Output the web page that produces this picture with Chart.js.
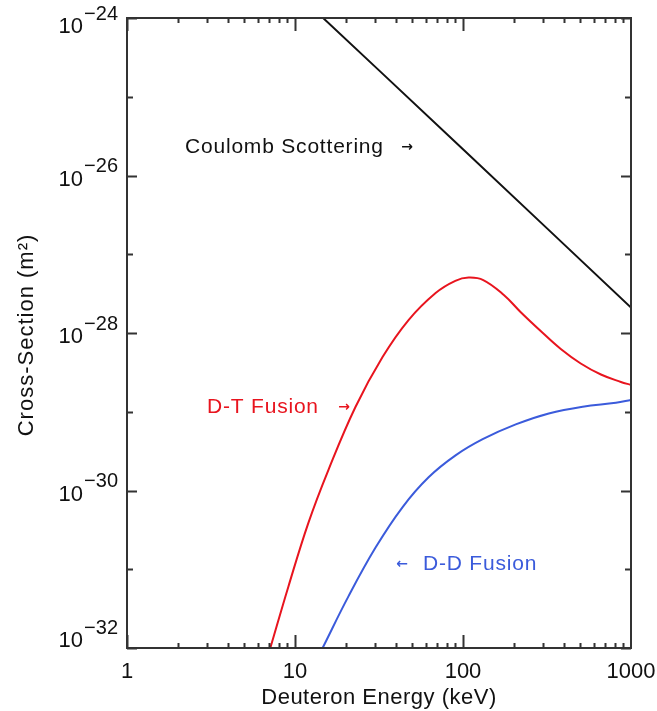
<!DOCTYPE html>
<html>
<head>
<meta charset="utf-8">
<script src="https://cdn.jsdelivr.net/npm/chart.js@4.4.1/dist/chart.umd.min.js"></script>
<style>
  html, body { margin: 0; padding: 0; background: #fff; }
  canvas { display: block; }
</style>
</head>
<body>
<canvas id="chart" width="657" height="711"></canvas>
<script>
// Deuteron energy (keV) vs cross-section (m^2)
const energyTickValues = [1, 10, 100, 1000];
const energyTickLabels = ['1', '10', '100', '1000'];
const sigmaTickExponents = [-24, -26, -28, -30, -32];

const coulombEnergy = [10, 100, 1000];
const coulombSigma = [2.16e-24, 2.16e-26, 2.1e-28];

const dtEnergy = [7.13, 9.12, 12.0, 15.8, 22.9, 33.2, 47.4, 68.7, 90, 108, 132, 175, 220, 290, 382, 502, 662, 871, 1000];
const dtSigma = [1.0e-32, 5.96e-32, 3.86e-31, 1.82e-30, 1.15e-29, 4.95e-29, 1.46e-28, 3.22e-28, 4.6e-28, 5.05e-28, 4.7e-28, 3.04e-28, 1.85e-28, 1.06e-28, 6.26e-29, 4.10e-29, 2.97e-29, 2.39e-29, 2.19e-29];

const ddEnergy = [14.6, 20.8, 30.1, 43.6, 62.4, 90.3, 131, 206, 324, 516, 813, 1000];
const ddSigma = [1.0e-32, 4.52e-32, 1.87e-31, 6.12e-31, 1.47e-30, 2.79e-30, 4.48e-30, 6.90e-30, 9.50e-30, 1.16e-29, 1.30e-29, 1.41e-29];

const FONT = '"Liberation Sans", Arial, sans-serif';
const RED = '#e8141e';
const BLUE = '#3b5bdb';

const toPoints = (xs, ys) => xs.map((x, i) => ({ x: x, y: ys[i] }));

const curve = (data, color) => ({
  data: data,
  showLine: true,
  borderColor: color,
  borderWidth: 2,
  pointRadius: 0,
  tension: 0.4,
  fill: false
});

// Frame, inward ticks, tick labels, titles and annotations
const axisFrame = {
  id: 'axisFrame',
  afterDatasetsDraw(chart) {
    const { ctx, chartArea: a, scales: { x, y } } = chart;
    ctx.save();
    ctx.strokeStyle = '#333';
    ctx.lineWidth = 2;
    ctx.strokeRect(a.left, a.top, a.right - a.left, a.bottom - a.top);

    ctx.beginPath();
    for (let d = 1; d < 1000; d *= 10) {
      for (let m = 1; m <= 9; m++) {
        const px = Math.round(x.getPixelForValue(d * m)) + 0.5;
        const len = m === 1 ? 13 : 5;
        ctx.moveTo(px, a.bottom); ctx.lineTo(px, a.bottom - len);
        ctx.moveTo(px, a.top); ctx.lineTo(px, a.top + len);
      }
    }
    for (let e = -32; e <= -24; e++) {
      const py = Math.round(y.getPixelForValue(Number('1e' + e))) + 0.5;
      const len = e % 2 === 0 ? 10 : 6;
      ctx.moveTo(a.left, py); ctx.lineTo(a.left + len, py);
      ctx.moveTo(a.right, py); ctx.lineTo(a.right - len, py);
    }
    ctx.stroke();

    ctx.fillStyle = '#111';
    ctx.textBaseline = 'middle';

    // x tick labels
    ctx.font = '22px ' + FONT;
    ctx.textAlign = 'center';
    energyTickValues.forEach((v, i) => {
      ctx.fillText(energyTickLabels[i], x.getPixelForValue(v), 672);
    });

    // y tick labels as 10 with raised exponent
    sigmaTickExponents.forEach(e => {
      const py = y.getPixelForValue(Number('1e' + e));
      const cy = Math.min(Math.max(py + 4, a.top + 9), a.bottom - 7);
      const expText = '\u2212' + Math.abs(e);
      ctx.textAlign = 'right';
      ctx.font = '20px ' + FONT;
      const expW = ctx.measureText(expText).width;
      ctx.fillText(expText, a.left - 9, cy - 13);
      ctx.font = '22px ' + FONT;
      ctx.fillText('10', a.left - 9 - expW - 1, cy);
    });

    // axis titles
    ctx.font = '22px ' + FONT;
    ctx.letterSpacing = '0.5px';
    ctx.textAlign = 'center';
    ctx.fillText('Deuteron Energy (keV)', (a.left + a.right) / 2, 698);
    ctx.save();
    ctx.translate(27, (a.top + a.bottom) / 2 + 2);
    ctx.rotate(-Math.PI / 2);
    ctx.letterSpacing = '1px';
    ctx.fillText('Cross-Section (m\u00b2)', 0, 0);
    ctx.restore();

    // curve annotations
    const note = (text, left, cy, color) => {
      ctx.font = '21px ' + FONT;
      ctx.letterSpacing = '0.8px';
      ctx.textAlign = 'left';
      ctx.fillStyle = color;
      ctx.fillText(text, left, cy);
    };
    const arrow = (glyph, cx, cy, color) => {
      ctx.font = 'bold 14px "DejaVu Sans", sans-serif';
      ctx.letterSpacing = '0px';
      ctx.textAlign = 'center';
      ctx.fillStyle = color;
      ctx.fillText(glyph, cx, cy);
    };
    note('Coulomb Scottering', 185, 147, '#111');
    arrow('\u2192', 407, 147, '#111');
    note('D-T Fusion', 207, 407, RED);
    arrow('\u2192', 344, 407, RED);
    arrow('\u2190', 402, 564, BLUE);
    note('D-D Fusion', 423, 564, BLUE);
    ctx.restore();
  }
};

new Chart(document.getElementById('chart'), {
  type: 'scatter',
  data: {
    datasets: [
      curve(toPoints(coulombEnergy, coulombSigma), '#111111'),
      curve(toPoints(dtEnergy, dtSigma), RED),
      curve(toPoints(ddEnergy, ddSigma), BLUE)
    ]
  },
  options: {
    responsive: false,
    animation: false,
    layout: { padding: { left: 127, right: 26, top: 18, bottom: 63 } },
    plugins: { legend: { display: false }, tooltip: { enabled: false } },
    scales: {
      x: { type: 'logarithmic', min: 1, max: 1000, display: false },
      y: { type: 'logarithmic', min: 1e-32, max: 1e-24, display: false }
    }
  },
  plugins: [axisFrame]
});
</script>
</body>
</html>
